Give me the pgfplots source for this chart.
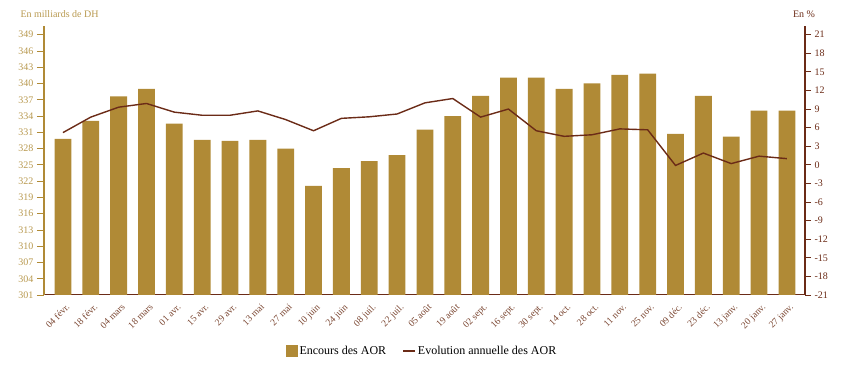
\documentclass[border=0pt]{standalone}
\usepackage{fontspec}
\setmainfont{Liberation Serif}
\usepackage{pgfplots}
\pgfplotsset{compat=1.18}
\definecolor{barc}{HTML}{B08A36}
\definecolor{linec}{HTML}{6B2B17}
\definecolor{gtext}{HTML}{B8994F}
\definecolor{xlab}{HTML}{7A4530}
\begin{document}
\begin{tikzpicture}
\useasboundingbox (0,0) rectangle (846pt,369pt);
\begin{axis}[
  at={(44pt,74pt)}, anchor=south west,
  scale only axis, width=761pt, height=269pt,
  xmin=-0.68, xmax=26.65,
  ymin=301, ymax=350.6,
  axis y line*=left, axis x line*=bottom,
  x axis line style={draw=linec, line width=1pt},
  y axis line style={draw=barc, line width=1.5pt},
  ytick={301,304,...,349},
  ytick style={draw=barc, line width=0.8pt},
  major tick length=7pt, tick align=outside,
  yticklabel style={font=\fontsize{10}{12}\selectfont, text=gtext},
  /pgf/number format/assume math mode=true,
  /pgf/number format/1000 sep={},
  xtick={0,...,26},
  xtick style={draw=none},
  xticklabels={04 févr.,18 févr.,04 mars,18 mars,01 avr.,15 avr.,29 avr.,13 mai,27 mai,10 juin,24 juin,08 juil.,22 juil.,05 août,19 août,02 sept.,16 sept.,30 sept.,14 oct.,28 oct.,11 nov.,25 nov.,09 déc.,23 déc.,13 janv.,20 janv.,27 janv.},
  xticklabel style={rotate=45, anchor=north east, font=\fontsize{9.5}{11}\selectfont, text=xlab, inner sep=0.5pt, xshift=1.5pt, yshift=-2pt},
]
\addplot[ybar, bar width=16.8pt, fill=barc, draw=none] coordinates {
(0,329.8) (1,333.1) (2,337.6) (3,339.0) (4,332.6) (5,329.6) (6,329.4) (7,329.6) (8,328.0)
(9,321.1) (10,324.4) (11,325.7) (12,326.8) (13,331.5) (14,334.0) (15,337.7) (16,341.1)
(17,341.1) (18,339.0) (19,340.0) (20,341.6) (21,341.8) (22,330.7) (23,337.7) (24,330.2)
(25,335.0) (26,335.0)};
\end{axis}
\begin{axis}[
  at={(44pt,74pt)}, anchor=south west,
  scale only axis, width=761pt, height=269pt,
  xmin=-0.68, xmax=26.65,
  ymin=-21, ymax=22.4,
  axis y line*=right, axis x line=none,
  y axis line style={draw=linec, line width=1.5pt},
  ytick={-21,-18,...,21},
  ytick style={draw=linec, line width=0.8pt},
  major tick length=6pt, tick align=outside,
  yticklabel style={font=\fontsize{10}{12}\selectfont, text=linec},
  /pgf/number format/assume math mode=true,
  legend style={at={(0.497,-0.208)}, anchor=center, draw=none, fill=none,
    font=\fontsize{12}{14}\selectfont, legend columns=2,
    /tikz/every even column/.append style={column sep=14pt}},
]
\addlegendimage{legend image code/.code={\fill[barc] (0pt,-5.5pt) rectangle (11pt,5.5pt);}}
\addlegendentry{Encours des AOR}
\addplot[linec, line width=1.4pt, mark=none,
  legend image code/.code={\draw[linec, line width=1.8pt] (0pt,0pt) -- (12pt,0pt);}] coordinates {
(0,5.2) (1,7.7) (2,9.3) (3,9.9) (4,8.5) (5,8.0) (6,8.0) (7,8.7) (8,7.3) (9,5.5)
(10,7.5) (11,7.75) (12,8.2) (13,10.0) (14,10.7) (15,7.7) (16,9.0) (17,5.5) (18,4.6)
(19,4.85) (20,5.8) (21,5.65) (22,-0.1) (23,1.9) (24,0.2) (25,1.4) (26,1.0)};
\addlegendentry{Evolution annuelle des AOR}
\end{axis}
\node[anchor=west, text=gtext, font=\fontsize{10}{12}\selectfont] at (17pt,355pt) {En milliards de DH};
\node[text=linec, font=\fontsize{10}{12}\selectfont] at (804pt,355pt) {En \%};
\end{tikzpicture}
\end{document}
